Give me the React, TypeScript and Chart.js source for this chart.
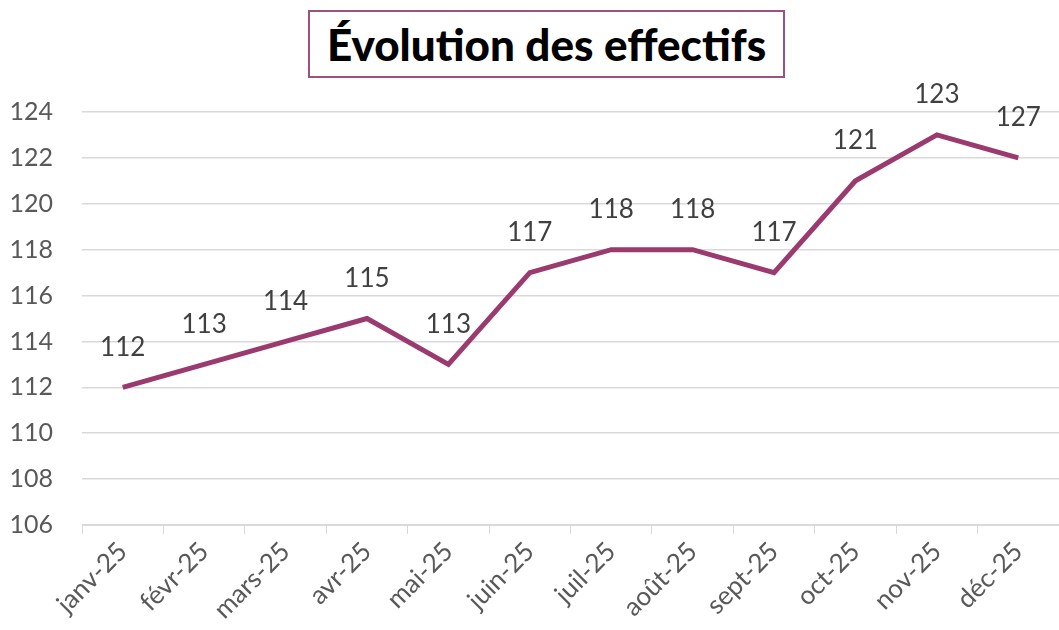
import React, { useEffect, useRef } from "react";
import { Chart, registerables } from "chart.js";

Chart.register(...registerables);

const categories = ["janv-25", "févr-25", "mars-25", "avr-25", "mai-25", "juin-25", "juil-25", "août-25", "sept-25", "oct-25", "nov-25", "déc-25"];
const effectifs = [112, 113, 114, 115, 113, 117, 118, 118, 117, 121, 123, 122];
const pointLabels = ["112", "113", "114", "115", "113", "117", "118", "118", "117", "121", "123", "127"];
const yMin = 106;
const yMax = 124;
const yStep = 2;
const titleText = "Évolution des effectifs";

const FONT = "Lato, 'Open Sans', sans-serif";

const labelPlugin = {
  id: "pointLabels",
  afterDatasetsDraw(chart: any) {
    const meta = chart.getDatasetMeta(0);
    const ctx = chart.ctx;
    ctx.save();
    ctx.font = `26px ${FONT}`;
    ctx.fillStyle = "#404040";
    ctx.textAlign = "center";
    ctx.textBaseline = "middle";
    meta.data.forEach((pt: any, i: number) => {
      ctx.fillText(pointLabels[i], pt.x, pt.y - 40);
    });
    ctx.restore();
  },
};

export default function App() {
  const ref = useRef<HTMLCanvasElement>(null);
  useEffect(() => {
    if (!ref.current) return;
    const chart = new Chart(ref.current, {
      type: "line",
      data: {
        labels: categories,
        datasets: [
          {
            data: effectifs,
            borderColor: "#9b3a6e",
            backgroundColor: "#9b3a6e",
            borderWidth: 5,
            pointRadius: 0,
            tension: 0,
            fill: false,
          },
        ],
      },
      options: {
        animation: false,
        responsive: false,
        maintainAspectRatio: false,
        layout: { padding: { top: 112, right: 0, left: 0, bottom: 0 } },
        plugins: {
          legend: { display: false },
          title: { display: false },
          tooltip: { enabled: false },
        },
        scales: {
          x: {
            offset: true,
            afterFit(scale: any) {
              scale.height = 105;
            },
            grid: {
              display: true,
              drawOnChartArea: false,
              drawTicks: true,
              tickLength: 9,
              color: "#d9d9d9",
              offset: true,
            },
            border: { display: true, color: "#d9d9d9", width: 1 },
            ticks: {
              color: "#595959",
              font: { family: FONT, size: 26 },
              maxRotation: 45,
              minRotation: 45,
              autoSkip: false,
              padding: 2,
            },
          },
          y: {
            min: yMin,
            max: yMax,
            afterFit(scale: any) {
              scale.width = 82;
            },
            grid: { color: "#d9d9d9", drawTicks: false, lineWidth: 1.5 },
            border: { display: false },
            ticks: {
              stepSize: yStep,
              color: "#595959",
              font: { family: FONT, size: 25 },
              padding: 29,
            },
          },
        },
      },
      plugins: [labelPlugin],
    });
    return () => chart.destroy();
  }, []);

  return (
    <div style={{ position: "absolute", left: 0, top: 0, width: 1059, height: 630, background: "#fff" }}>
      <canvas ref={ref} width={1059} height={630} style={{ position: "absolute", left: 0, top: 0 }} />
      <div
        style={{
          position: "absolute",
          left: 308,
          top: 10,
          width: 477,
          height: 68,
          boxSizing: "border-box",
          border: "2px solid #a0507e",
          display: "flex",
          alignItems: "center",
          justifyContent: "center",
          fontFamily: FONT,
          fontWeight: 900,
          fontSize: 44,
          color: "#000",
          background: "#fff",
          whiteSpace: "nowrap",
        }}
      >
        {titleText}
      </div>
    </div>
  );
}
